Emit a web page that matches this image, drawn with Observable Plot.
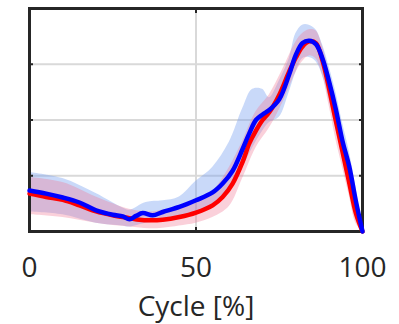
<!DOCTYPE html>
<html><head><meta charset="utf-8">
<script src="https://cdn.jsdelivr.net/npm/d3@7"></script>
<script src="https://cdn.jsdelivr.net/npm/@observablehq/plot@0.6"></script>
<style>body{margin:0;background:#fff}</style>
</head><body><div id="chart"></div>
<script>
const xTicks = [0, 50, 100];
const yGrid = [1, 2, 3];

const redX    = [0,5,10,15,20,25,30,33,36,40,45,50,55,58,61,64,66,68,70,72,75,78,80,82,84,86,88,90,92,94,96,98,100];
const redMean = [0.68,0.62,0.57,0.47,0.36,0.29,0.24,0.21,0.20,0.21,0.26,0.34,0.47,0.62,0.86,1.25,1.58,1.81,2.00,2.14,2.45,2.87,3.12,3.32,3.41,3.38,3.06,2.55,1.98,1.43,0.88,0.33,0];

const blueX    = [0,5,10,15,20,25,28,30,32,34,37,40,45,50,55,58,61,64,66,68,70,72,75,78,80,82,84,86,88,90,92,94,96,98,100];
const blueMean = [0.735,0.68,0.61,0.52,0.38,0.30,0.27,0.22,0.28,0.33,0.29,0.35,0.44,0.56,0.70,0.86,1.09,1.48,1.76,2.00,2.10,2.18,2.37,2.82,3.17,3.38,3.42,3.36,3.10,2.68,2.19,1.62,1.17,0.55,0];

const blueBandX  = [0,10,20,28,30,35,40,45,50,55,60,64,67,70,72,75,78,80,82,84,86,88,90,92,94,96,98,100];
const blueBandLo = [0.35,0.30,0.15,0.10,0.08,0.15,0.18,0.25,0.30,0.45,0.75,1.15,1.50,1.80,1.95,2.05,2.50,2.85,3.10,3.12,3.05,2.80,2.35,1.85,1.30,0.80,0.25,0];
const blueBandHi = [1.06,0.95,0.68,0.42,0.38,0.52,0.55,0.62,0.90,1.15,1.60,2.20,2.55,2.55,2.40,2.70,3.10,3.55,3.70,3.70,3.62,3.35,2.95,2.50,1.95,1.45,0.80,0.02];

const redBandX  = [0,10,20,30,36,40,45,50,55,60,64,68,72,76,80,82,84,86,88,90,92,94,96,98,100];
const redBandLo = [0.30,0.25,0.15,0.08,0.05,0.06,0.10,0.15,0.25,0.45,0.95,1.50,1.85,2.30,2.85,3.05,3.15,3.10,2.80,2.25,1.65,1.15,0.65,0.15,0];
const redBandHi = [0.97,0.88,0.62,0.40,0.35,0.38,0.45,0.55,0.72,1.15,1.62,2.15,2.45,2.90,3.40,3.55,3.62,3.60,3.32,2.85,2.30,1.75,1.15,0.50,0];

const red = redX.map((x,i)=>({x, y: redMean[i]}));
const blue = blueX.map((x,i)=>({x, y: blueMean[i]}));
const blueBand = blueBandX.map((x,i)=>({x, lo: blueBandLo[i], hi: blueBandHi[i]}));
const redBand = redBandX.map((x,i)=>({x, lo: redBandLo[i], hi: redBandHi[i]}));

const chart = Plot.plot({
  width: 399, height: 324,
  marginLeft: 29, marginRight: 37, marginTop: 8, marginBottom: 93,
  x: {domain: [0, 100]},
  y: {domain: [0, 4]},
  style: {fontFamily: "'Open Sans', sans-serif", color: "#262626", background: "#fff"},
  marks: [
    Plot.gridX([50], {stroke: "#d9d9d9", strokeOpacity: 1, strokeWidth: 2}),
    Plot.gridY(yGrid, {stroke: "#d9d9d9", strokeOpacity: 1, strokeWidth: 2}),
    Plot.areaY(blueBand, {x: "x", y1: "lo", y2: "hi", fill: "rgb(120,160,240)", fillOpacity: 0.4, curve: "catmull-rom"}),
    Plot.areaY(redBand, {x: "x", y1: "lo", y2: "hi", fill: "rgb(240,120,150)", fillOpacity: 0.35, curve: "catmull-rom"}),
    Plot.axisY(yGrid, {anchor: "left", tickSize: -4, tickFormat: () => "", stroke: "#262626", strokeWidth: 2, label: null}),
    Plot.axisY(yGrid, {anchor: "right", tickSize: -4, tickFormat: () => "", stroke: "#262626", strokeWidth: 2, label: null}),
    Plot.axisX([50], {anchor: "top", tickSize: -4, tickFormat: () => "", stroke: "#262626", strokeWidth: 2, label: null}),
    Plot.axisX(xTicks, {anchor: "bottom", tickSize: 0, tickPadding: 26, fontSize: 28, label: null, fill: "#262626"}),
    Plot.axisX([50], {anchor: "bottom", tickSize: -4, tickFormat: () => "", stroke: "#262626", strokeWidth: 2, label: null}),
    Plot.frame({stroke: "#262626", strokeWidth: 3}),
    Plot.line(red, {x: "x", y: "y", stroke: "#ff0000", strokeWidth: 4.5, curve: "catmull-rom"}),
    Plot.line(blue, {x: "x", y: "y", stroke: "#0000ff", strokeWidth: 4.5, curve: "catmull-rom"}),
    Plot.text(["Cycle [%]"], {frameAnchor: "bottom", dy: 76, lineAnchor: "middle", fontSize: 28, fill: "#262626"})
  ]
});
document.getElementById("chart").appendChild(chart);
</script>
</body></html>
